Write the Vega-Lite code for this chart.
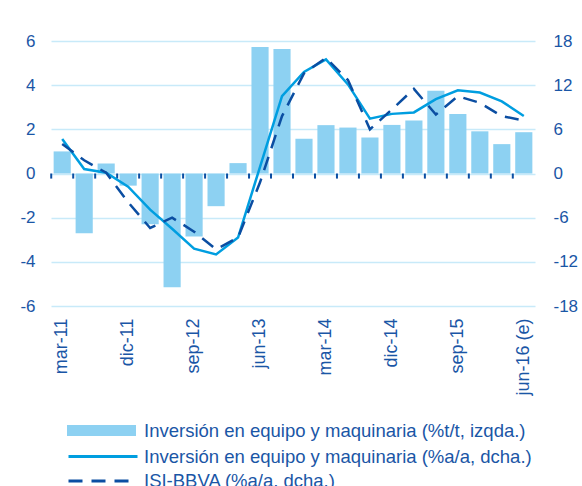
{
  "$schema": "https://vega.github.io/schema/vega-lite/v6.json",
  "width": 484,
  "height": 265,
  "autosize": "none",
  "padding": {"left": 51, "top": 41, "right": 47, "bottom": 180},
  "config": {
    "font": "Liberation Sans",
    "view": {"stroke": null},
    "axis": {"labelFont": "Liberation Sans", "labelFontSize": 17, "labelColor": "#1a56a6"},
    "legend": {"labelFont": "Liberation Sans", "labelFontSize": 18.5, "labelColor": "#1a56a6", "labelLimit": 600, "labelOffset": 8, "padding": 0, "title": null}
  },
  "data": {
    "values": [
      {"q": "mar-11", "t": 1.0, "a": 4.7, "isi": 4.0},
      {"q": "jun-11", "t": -2.7, "a": 0.6, "isi": 1.8},
      {"q": "sep-11", "t": 0.45, "a": 0.1, "isi": 0.1},
      {"q": "dic-11", "t": -0.55, "a": -1.8, "isi": -3.9},
      {"q": "mar-12", "t": -2.3, "a": -4.9, "isi": -7.4},
      {"q": "jun-12", "t": -5.15, "a": -7.5, "isi": -6.0},
      {"q": "sep-12", "t": -2.85, "a": -10.2, "isi": -7.9},
      {"q": "dic-12", "t": -1.48, "a": -11.0, "isi": -10.3},
      {"q": "mar-13", "t": 0.47, "a": -8.7, "isi": -8.7},
      {"q": "jun-13", "t": 5.73, "a": 0.9, "isi": -1.2},
      {"q": "sep-13", "t": 5.64, "a": 10.5, "isi": 7.8},
      {"q": "dic-13", "t": 1.57, "a": 13.8, "isi": 13.6},
      {"q": "mar-14", "t": 2.19, "a": 15.5, "isi": 15.7},
      {"q": "jun-14", "t": 2.08, "a": 12.1, "isi": 12.7},
      {"q": "sep-14", "t": 1.63, "a": 7.45, "isi": 6.0},
      {"q": "dic-14", "t": 2.2, "a": 8.1, "isi": 8.7},
      {"q": "mar-15", "t": 2.4, "a": 8.3, "isi": 11.5},
      {"q": "jun-15", "t": 3.75, "a": 10.1, "isi": 8.0},
      {"q": "sep-15", "t": 2.7, "a": 11.3, "isi": 10.5},
      {"q": "dic-15", "t": 1.91, "a": 11.0, "isi": 9.6},
      {"q": "mar-16", "t": 1.33, "a": 9.8, "isi": 7.8},
      {"q": "jun-16 (e)", "t": 1.87, "a": 7.8, "isi": 7.2}
    ]
  },
  "encoding": {
    "x": {
      "field": "q", "type": "ordinal",
      "scale": {
        "domain": ["mar-11", "jun-11", "sep-11", "dic-11", "mar-12", "jun-12", "sep-12", "dic-12", "mar-13", "jun-13", "sep-13", "dic-13", "mar-14", "jun-14", "sep-14", "dic-14", "mar-15", "jun-15", "sep-15", "dic-15", "mar-16", "jun-16 (e)"],
        "paddingInner": 0.22, "paddingOuter": 0.12
      },
      "axis": {"values": ["mar-11", "dic-11", "sep-12", "jun-13", "mar-14", "dic-14", "sep-15", "jun-16 (e)"], "labelAngle": -90, "labelFontSize": 18, "domain": false, "ticks": false, "tickSize": 0, "labelPadding": 12, "title": null, "grid": false, "labelOverlap": false}
    }
  },
  "layer": [
    {
      "mark": {"type": "bar"},
      "encoding": {
        "y": {
          "field": "t", "type": "quantitative",
          "scale": {"domain": [-6, 6], "nice": false, "zero": false},
          "axis": {"values": [-6, -4, -2, 0, 2, 4, 6], "labelExpr": "replace(datum.label, '−', '-')", "grid": true, "gridColor": "#c8eaf9", "gridWidth": 1.5, "domain": false, "ticks": false, "labelPadding": 16, "title": null}
        },
        "fill": {
          "datum": "Inversión en equipo y maquinaria (%t/t, izqda.)", "type": "nominal",
          "scale": {"range": ["#8dd1f2"]},
          "legend": {"orient": "none", "legendX": 16, "legendY": 355, "symbolType": "M-1,-0.16H1V0.16H-1Z", "symbolSize": 4761, "symbolStrokeWidth": 0}
        }
      }
    },
    {
      "mark": {"type": "rule", "color": "#0b4ea2", "strokeWidth": 3},
      "encoding": {
        "y": {"datum": 0, "type": "quantitative", "scale": {"domain": [-6, 6], "nice": false, "zero": false}, "axis": null}
      }
    },
    {
      "mark": {"type": "rule", "color": "#0b4ea2", "strokeWidth": 2},
      "encoding": {
        "x": {"field": "q", "type": "ordinal", "bandPosition": -0.141},
        "y": {"datum": 0, "type": "quantitative", "scale": {"domain": [-6, 6], "nice": false, "zero": false}, "axis": null},
        "y2": {"datum": -0.23}
      }
    },
    {
      "mark": {"type": "line", "strokeWidth": 2.5},
      "encoding": {
        "y": {
          "field": "a", "type": "quantitative",
          "scale": {"domain": [-18, 18], "nice": false},
          "axis": {"orient": "right", "values": [-18, -12, -6, 0, 6, 12, 18], "labelExpr": "replace(datum.label, '−', '-')", "grid": false, "domain": false, "ticks": false, "labelPadding": 18, "title": null}
        },
        "stroke": {
          "datum": "Inversión en equipo y maquinaria (%a/a, dcha.)", "type": "nominal",
          "scale": {"range": ["#009ee0"]},
          "legend": {"orient": "none", "legendX": 16, "legendY": 379.5, "symbolType": "stroke", "symbolSize": 4761, "symbolStrokeWidth": 3, "labelOffset": 5}
        }
      }
    },
    {
      "mark": {"type": "line", "strokeWidth": 2.5, "color": "#0b4ea2"},
      "encoding": {
        "y": {"field": "isi", "type": "quantitative", "scale": {"domain": [-18, 18], "nice": false}, "axis": null},
        "strokeDash": {
          "datum": "ISI-BBVA (%a/a, dcha.)", "type": "nominal",
          "scale": {"range": [[14, 9]]},
          "legend": {"orient": "none", "legendX": 16, "legendY": 404, "symbolType": "stroke", "symbolSize": 4761, "symbolStrokeWidth": 3, "symbolStrokeColor": "#0b4ea2", "labelOffset": 5}
        }
      }
    }
  ],
  "resolve": {"scale": {"y": "independent"}}
}
